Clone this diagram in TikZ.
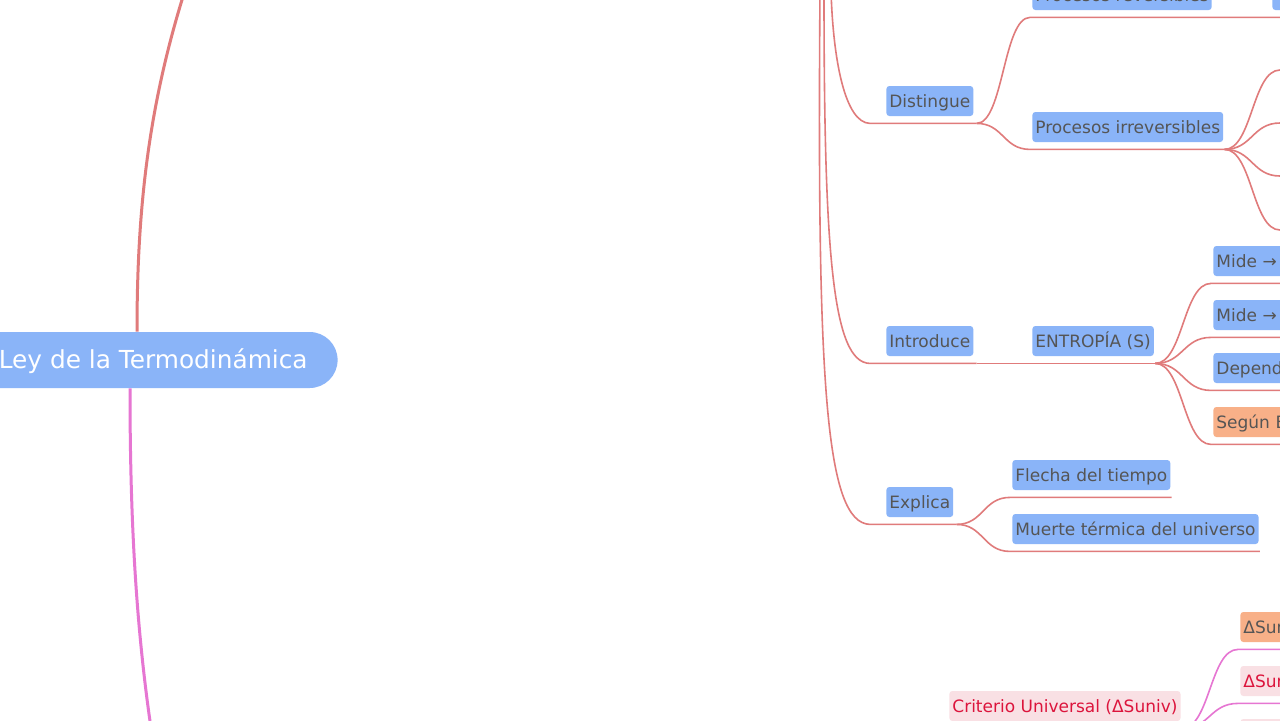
\documentclass[tikz,border=0pt]{standalone}
\usepackage{fontspec}
\setmainfont{DejaVu Sans}
\usetikzlibrary{calc}
\definecolor{azul}{HTML}{8AB4F8}
\definecolor{naranja}{HTML}{F8B088}
\definecolor{rosa}{HTML}{F9E0E4}
\definecolor{gris}{HTML}{555555}
\definecolor{carmin}{HTML}{DC143C}
\definecolor{rojo}{HTML}{E07B7B}
\definecolor{fucsia}{HTML}{E676D2}

\begin{document}
\begin{tikzpicture}[x=0.5pt,y=-0.5pt,
    tema/.style={rectangle, rounded corners=1.5pt, fill=azul, text=gris, anchor=west,
        font=\fontsize{8.5}{10}\selectfont, inner xsep=1.5pt, inner ysep=0pt,
        minimum height=15pt, text height=8.5pt, text depth=1.8pt},
    corte/.style={text width=60pt, align=left},
    raizbox/.style={rectangle, rounded corners=14pt, fill=azul, text=white, anchor=east,
        font=\fontsize{12.4}{14}\selectfont, inner xsep=15pt, inner ysep=0pt,
        minimum height=28pt, text height=10.5pt, text depth=2.5pt},
    linea/.style={draw=rojo, line width=0.8pt},
    lineab/.style={draw=fucsia, line width=0.8pt},
    abanico/.style={to path={let \p1=(\tikztostart), \p2=(\tikztotarget) in
        .. controls ({(\x1+\x2)/2},\y1) and ({(\x1+\x2)/2},\y2) .. (\tikztotarget)}}]
  \useasboundingbox (0,0) rectangle (1280,720);
  \fill[white] (0,0) rectangle (1280,720);
  \clip (0,0) rectangle (1280,720);

  % raiz
  \node[raizbox] (raiz) at (338,360) {Ley de la Termodinámica};
  \coordinate (raizN) at ($(raiz.north east)+(-201,0)$);
  \coordinate (raizS) at ($(raiz.south east)+(-208,0)$);
  \coordinate (ramaA) at (195,-40);
  \coordinate (ramaB) at (156,760);
  \draw[rojo, line width=1.5pt] (raizN) .. controls (137,200) and (150,90) .. (ramaA);
  \draw[fucsia, line width=1.5pt] (raizS) .. controls (130,520) and (136,640) .. (ramaB);

  % nodos
  \node[tema] (dist) at (886,101) {Distingue};
  \node[tema] (intro) at (886,341) {Introduce};
  \node[tema] (expl) at (886,502) {Explica};
  \node[tema] (prev) at (1032,-5) {Procesos reversibles};
  \node[tema] (pirr) at (1032,127) {Procesos irreversibles};
  \node[tema] (entr) at (1032,341) {ENTROPÍA (S)};
  \node[tema] (flec) at (1012,475) {Flecha del tiempo};
  \node[tema] (muer) at (1012,529) {Muerte térmica del universo};
  \node[tema, corte] (prev1) at (1272,-5) {};
  \foreach \k/\y/\c/\t in {1/261/azul/Mide →, 2/315/azul/Mide →,
                           3/368/azul/Depend, 4/422/naranja/Según B}
    \node[tema, corte, fill=\c] (entr\k) at (1213,\y) {\t};
  \node[tema, fill=rosa, text=carmin] (crit) at (949,706) {Criterio Universal (ΔSuniv)};
  \node[tema, corte, fill=naranja] (crit1) at (1240,627) {ΔSun};
  \node[tema, corte, fill=rosa, text=carmin] (crit2) at (1240,681) {ΔSun};
  \node[tema, corte, fill=rosa] (crit3) at (1240,734) {};

  % subrayados
  \foreach \m in {dist,intro,expl}
    { \coordinate (\m-l) at ($(\m.south west)+(-16,7)$);
      \coordinate (\m-r) at ($(\m.south east)+(3,7)$); }
  \foreach \m in {prev,pirr,entr,flec,muer,prev1,entr1,entr2,entr3,entr4,crit,crit1,crit2,crit3}
    { \coordinate (\m-l) at ($(\m.south west)+(-2,7)$);
      \coordinate (\m-r) at ($(\m.south east)+(1,7)$); }
  \coordinate (ramaD) at (831,-10);
  \coordinate (ramaI) at (824,-10);
  \coordinate (ramaE) at (820,-10);
  \foreach \k/\y in {1/70,2/123,3/176,4/230}
    \coordinate (pirr\k) at (1280,\y);

  % ramas
  \draw[linea] (ramaD) .. controls (833,60) and (845,123) .. (dist-l) -- (dist-r);
  \draw[linea] (ramaI) .. controls (824,250) and (832,363) .. (intro-l) -- (intro-r);
  \draw[linea] (ramaE) .. controls (817,380) and (825,523) .. (expl-l) -- (expl-r);
  \draw[linea] (dist-r) to[abanico] (prev-l) -- (prev-r) -- (prev1-l) -- (prev1-r);
  \draw[linea] (dist-r) to[abanico] (pirr-l) -- (pirr-r);
  \foreach \k in {1,...,4}
    \draw[linea] (pirr-r) to[abanico] (pirr\k) -- +(30,0);
  \draw[linea] (intro-r) to[abanico] (entr-l) -- (entr-r);
  \foreach \k in {1,...,4}
    \draw[linea] (entr-r) to[abanico] (entr\k-l) -- (entr\k-r);
  \draw[linea] (expl-r) to[abanico] (flec-l) -- (flec-r);
  \draw[linea] (expl-r) to[abanico] (muer-l) -- (muer-r);
  \foreach \k in {1,2,3}
    \draw[lineab] (crit-r) to[abanico] (crit\k-l) -- (crit\k-r);
\end{tikzpicture}
\end{document}
